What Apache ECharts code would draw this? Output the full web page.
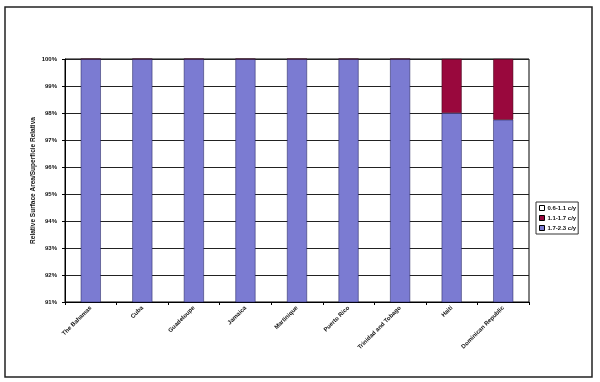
<!DOCTYPE html>
<html>
<head>
<meta charset="utf-8">
<script src="https://cdn.jsdelivr.net/npm/echarts@6/dist/echarts.min.js"></script>
<style>
html,body{margin:0;padding:0;background:#fff;}
#c{width:600px;height:382px;}
</style>
</head>
<body>
<div id="c"></div>
<script>
var categories = ['The Bahamas','Cuba','Guadeloupe','Jamaica','Martinique','Puerto Rico','Trinidad and Tobago','Haiti','Dominican Republic'];
var seriesNames = ['0.6-1.1 c/y','1.1-1.7 c/y','1.7-2.3 c/y'];
var low = [0,0,0,0,0,0,0,0,0];
var mid = [0,0,0,0,0,0,0,2.0,2.25];
var high = [100,100,100,100,100,100,100,98.0,97.75];
var yTicks = [91,92,93,94,95,96,97,98,99,100];

var chart = echarts.init(document.getElementById('c'));
var font = 'Liberation Sans, Arial, sans-serif';
chart.setOption({
  animation:false,
  backgroundColor:'#fff',
  graphic:[{type:'rect',shape:{x:5,y:7,width:587,height:370},style:{fill:'none',stroke:'#222',lineWidth:1.5},silent:true}],
  grid:{left:65,right:71,top:59,bottom:80,show:true,borderColor:'#000',borderWidth:1,backgroundColor:'#fff'},
  legend:{
    orient:'vertical',left:536,top:202,
    data:[
      {name:seriesNames[0],itemStyle:{color:'#fff',borderColor:'#000',borderWidth:1}},
      {name:seriesNames[1],itemStyle:{color:'#99083d',borderColor:'#000',borderWidth:1}},
      {name:seriesNames[2],itemStyle:{color:'#7b7bd2',borderColor:'#000',borderWidth:1}}
    ],
    itemWidth:5,itemHeight:5,itemGap:4,padding:[3,2,3,3],
    borderColor:'#333',borderWidth:1,
    textStyle:{fontSize:6,fontWeight:'bold',fontFamily:font,color:'#111',padding:[0,0,0,-2]},
    icon:'rect'
  },
  xAxis:{
    type:'category',data:categories,
    axisLine:{lineStyle:{color:'#000',width:1}},
    axisTick:{show:true,inside:false,length:3,lineStyle:{color:'#000'}},
    axisLabel:{rotate:45,fontSize:6,fontWeight:'bold',fontFamily:font,color:'#111',interval:0,margin:5}
  },
  yAxis:{
    type:'value',min:91,max:100,interval:1,
    name:'Relative Surface Area/Superficie Relativa',nameLocation:'middle',nameGap:28,nameMoveOverlap:false,
    nameTextStyle:{fontSize:6.5,fontWeight:'bold',fontFamily:font,color:'#111'},
    axisLine:{show:true,lineStyle:{color:'#000'}},
    axisTick:{show:true,length:3,lineStyle:{color:'#000'}},
    axisLabel:{fontSize:6,fontWeight:'bold',fontFamily:font,color:'#111',formatter:function(v){return yTicks.indexOf(v)>=0? v+'%':'';}},
    splitLine:{show:true,lineStyle:{color:'#222',width:1}}
  },
  series:[
    {name:seriesNames[2],type:'bar',stack:'s',data:high,barWidth:20,itemStyle:{color:'#7b7bd2',borderColor:'#1a1a55',borderWidth:0.5}},
    {name:seriesNames[1],type:'bar',stack:'s',data:mid,barWidth:20,itemStyle:{color:'#99083d',borderColor:'#3a0015',borderWidth:0.5}},
    {name:seriesNames[0],type:'bar',stack:'s',data:low,barWidth:20,itemStyle:{color:'#ffffff',borderWidth:0}}
  ]
});
</script>
</body>
</html>
